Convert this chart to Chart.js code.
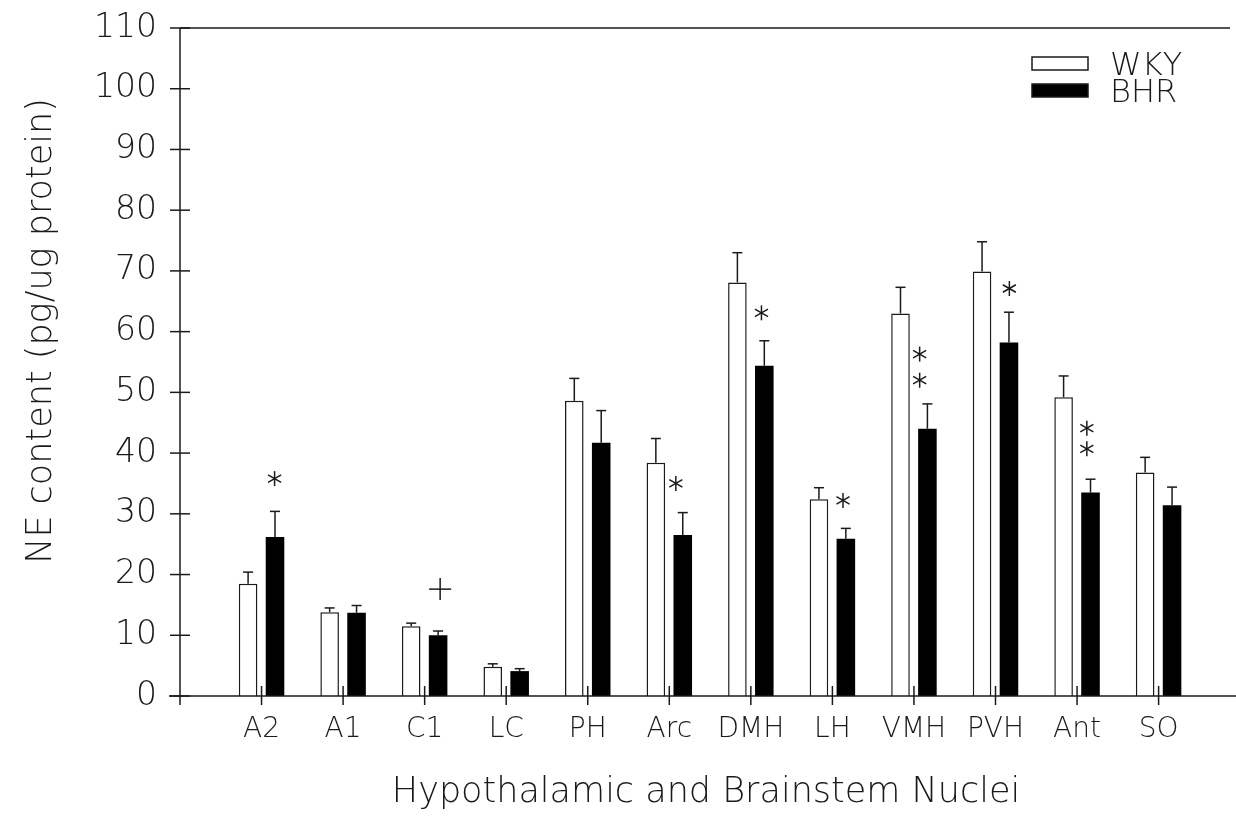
<!DOCTYPE html>
<html lang="en">
<head>
    <meta charset="UTF-8">
    <title>NE content</title>
    <script src="https://cdn.jsdelivr.net/npm/chart.js"></script>
    <style>
        body {
            margin: 0;
            background: #fff;
            overflow: hidden;
        }
    </style>
</head>
<body>
    <canvas id="chart" width="1236" height="816"></canvas>

    <script>
        // nuclei along the x axis
        const categories = ['A2', 'A1', 'C1', 'LC', 'PH', 'Arc', 'DMH', 'LH', 'VMH', 'PVH', 'Ant', 'SO'];

        const wkyMean = [18.5, 13.8, 11.5, 4.8, 48.6, 38.4, 68.1, 32.4, 63.0, 69.9, 49.2, 36.8];
        const wkySem  = [1.9, 0.7, 0.5, 0.5, 3.7, 4.0, 4.9, 1.9, 4.3, 4.9, 3.5, 2.5];
        const bhrMean = [26.2, 13.7, 10.0, 4.1, 41.7, 26.5, 54.4, 25.9, 44.0, 58.2, 33.5, 31.4];
        const bhrSem  = [4.2, 1.2, 0.7, 0.4, 5.3, 3.7, 4.1, 1.7, 4.1, 5.0, 2.2, 3.0];

        const yTicks = [0, 10, 20, 30, 40, 50, 60, 70, 80, 90, 100, 110];
        const yTitle = 'NE content (pg/ug protein)';

        // significance marks: category, shift within the category, height (data units)
        const marks = [
            { cat: 'A2',  dx: 0.16, y: 35.8, sign: '*' },
            { cat: 'C1',  dx: 0.19, y: 17.6, sign: '+' },
            { cat: 'Arc', dx: 0.08, y: 35.0, sign: '*' },
            { cat: 'DMH', dx: 0.13, y: 63.1, sign: '*' },
            { cat: 'LH',  dx: 0.13, y: 32.2, sign: '*' },
            { cat: 'VMH', dx: 0.07, y: 56.3, sign: '*' },
            { cat: 'VMH', dx: 0.07, y: 52.0, sign: '*' },
            { cat: 'PVH', dx: 0.17, y: 67.1, sign: '*' },
            { cat: 'Ant', dx: 0.12, y: 44.1, sign: '*' },
            { cat: 'Ant', dx: 0.12, y: 40.7, sign: '*' }
        ];

        const ink = '#1a1a1a';
        const fontFamily = "'DejaVu Sans', sans-serif";

        function line(ctx, x1, y1, x2, y2) {
            ctx.beginPath();
            ctx.moveTo(x1, y1);
            ctx.lineTo(x2, y2);
            ctx.stroke();
        }

        const figurePlugin = {
            id: 'figure',
            afterDatasetsDraw(chart) {
                const { ctx, chartArea: a, scales: { x, y } } = chart;
                ctx.save();
                ctx.strokeStyle = ink;
                ctx.lineWidth = 1.5;

                // error bars (upper half only)
                chart.data.datasets.forEach((ds, di) => {
                    chart.getDatasetMeta(di).data.forEach((bar, i) => {
                        const top = y.getPixelForValue(ds.data[i].y + ds.sem[i]);
                        line(ctx, bar.x, bar.y, bar.x, top);
                        line(ctx, bar.x - 5, top, bar.x + 5, top);
                    });
                });

                // frame and crossing tick marks
                line(ctx, a.left, a.top, a.right - 2, a.top);
                line(ctx, a.left, a.top, a.left, a.bottom + 9);
                line(ctx, a.left - 11, a.bottom, chart.width, a.bottom);
                y.ticks.forEach(t => {
                    const py = y.getPixelForValue(t.value);
                    line(ctx, a.left - 10, py, a.left + 10, py);
                });
                x.ticks.forEach(t => {
                    const px = x.getPixelForValue(t.value);
                    line(ctx, px, a.bottom - 10, px, a.bottom + 9);
                });

                // significance marks
                marks.forEach(m => {
                    const cx = x.getPixelForValue(categories.indexOf(m.cat) + 1 + m.dx);
                    const cy = y.getPixelForValue(m.y);
                    if (m.sign === '+') {
                        line(ctx, cx - 11, cy, cx + 11, cy);
                        line(ctx, cx, cy - 11, cx, cy + 11);
                    } else {
                        const r = 7.5;
                        line(ctx, cx, cy - r, cx, cy + r);
                        line(ctx, cx - r * 0.87, cy - r * 0.5, cx + r * 0.87, cy + r * 0.5);
                        line(ctx, cx - r * 0.87, cy + r * 0.5, cx + r * 0.87, cy - r * 0.5);
                    }
                });

                // legend
                ctx.font = '200 32px ' + fontFamily;
                ctx.textBaseline = 'middle';
                chart.data.datasets.forEach((ds, di) => {
                    const ly = 57 + di * 27;
                    ctx.fillStyle = ds.backgroundColor;
                    ctx.fillRect(1032, ly, 56, 13);
                    ctx.strokeRect(1032, ly, 56, 13);
                    ctx.fillStyle = ink;
                    ctx.fillText(ds.label, 1110, ly + 10);
                });

                // y title, sits a little above the middle of the axis in the original
                ctx.font = '200 35px ' + fontFamily;
                ctx.textAlign = 'center';
                ctx.translate(42, 331);
                ctx.rotate(-Math.PI / 2);
                ctx.fillText(yTitle, 0, 0);
                ctx.restore();
            }
        };

        new Chart(document.getElementById('chart'), {
            type: 'bar',
            data: {
                datasets: [{
                    label: 'WKY',
                    data: categories.map((c, i) => ({ x: i + 1, y: wkyMean[i] })),
                    sem: wkySem,
                    backgroundColor: '#ffffff',
                    borderColor: ink,
                    borderWidth: 1.5
                }, {
                    label: 'BHR',
                    data: categories.map((c, i) => ({ x: i + 1, y: bhrMean[i] })),
                    sem: bhrSem,
                    backgroundColor: '#000000',
                    borderWidth: 0
                }]
            },
            options: {
                responsive: false,
                animation: false,
                layout: { padding: { top: 28, right: 4, left: 0, bottom: 0 } },
                datasets: {
                    bar: { categoryPercentage: 0.66, barPercentage: 0.69 }
                },
                plugins: {
                    legend: { display: false },
                    tooltip: { enabled: false }
                },
                scales: {
                    x: {
                        type: 'linear',
                        offset: false,
                        min: 0,
                        max: 12.9,
                        grid: { display: false, drawTicks: false },
                        border: { display: false },
                        afterBuildTicks: scale => {
                            scale.ticks = categories.map((c, i) => ({ value: i + 1 }));
                        },
                        afterFit: scale => { scale.height = 120; },
                        ticks: {
                            autoSkip: false,
                            maxRotation: 0,
                            padding: 17,
                            color: ink,
                            font: { family: fontFamily, size: 28, weight: 200 },
                            callback: v => categories[v - 1] || ''
                        },
                        title: {
                            display: true,
                            text: 'Hypothalamic and Brainstem Nuclei',
                            color: ink,
                            font: { family: fontFamily, size: 35, weight: 200 },
                            padding: { top: 0, bottom: 2 }
                        }
                    },
                    y: {
                        min: 0,
                        max: 110,
                        grid: { display: false, drawTicks: false },
                        border: { display: false },
                        afterBuildTicks: scale => {
                            scale.ticks = yTicks.map(v => ({ value: v }));
                        },
                        afterFit: scale => {
                            scale.width = 180;
                            scale.paddingTop = 0;
                            scale.paddingBottom = 0;
                        },
                        ticks: {
                            padding: 23,
                            color: ink,
                            font: { family: fontFamily, size: 33, weight: 200 }
                        }
                    }
                }
            },
            plugins: [figurePlugin]
        });
    </script>
</body>
</html>
